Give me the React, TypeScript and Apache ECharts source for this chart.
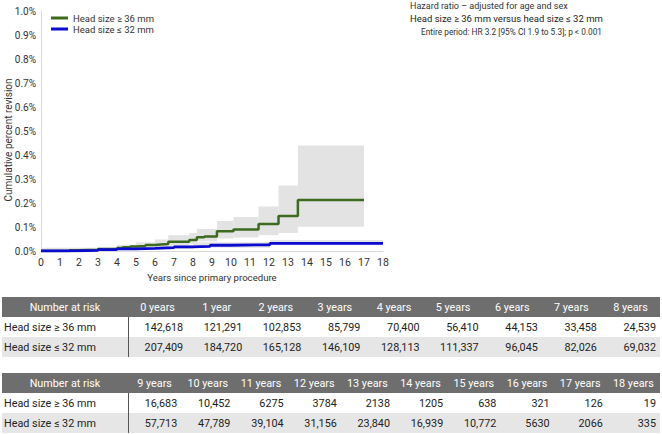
import React, { useEffect, useRef } from "react";
import * as echarts from "echarts";

const FONT = "Roboto";

// Kaplan-Meier style step estimates (percent)
const greenName = "Head size \u2265 36 mm";
const blueName = "Head size \u2264 32 mm";
const greenTimes = [0, 1.5, 2, 3, 4, 4.3, 4.7, 5, 5.5, 6, 6.3, 6.7, 7.8, 8.2, 8.6, 9.26, 10.13, 11.45, 12.5, 13.52, 17];
const greenValues = [0, 0.003, 0.005, 0.008, 0.012, 0.016, 0.019, 0.021, 0.025, 0.027, 0.029, 0.039, 0.046, 0.057, 0.06, 0.082, 0.09, 0.113, 0.146, 0.213, 0.213];
const blueTimes = [0, 1, 2, 3, 4, 5, 6, 6.3, 7, 8, 8.9, 9.96, 12.05, 18];
const blueValues = [0, 0.001, 0.003, 0.006, 0.009, 0.011, 0.012, 0.014, 0.017, 0.019, 0.024, 0.026, 0.032, 0.032];

// confidence bands: [start, end, lower, upper]
const greenBand = [
  [0, 1.5, 0, 0.004],
  [1.5, 3, 0.001, 0.008],
  [3, 4, 0.004, 0.014],
  [4, 5, 0.008, 0.026],
  [5, 6, 0.013, 0.036],
  [6, 6.7, 0.018, 0.048],
  [6.7, 7.8, 0.025, 0.066],
  [7.8, 8.2, 0.03, 0.075],
  [8.2, 9.26, 0.04, 0.092],
  [9.26, 10.13, 0.052, 0.125],
  [10.13, 11.45, 0.056, 0.142],
  [11.45, 12.5, 0.066, 0.186],
  [12.5, 13.52, 0.075, 0.273],
  [13.52, 17.0, 0.101, 0.44],
];
const blueBand = [
  [0, 4, 0, 0.014],
  [4, 8, 0.007, 0.024],
  [8, 12.05, 0.014, 0.036],
  [12.05, 18, 0.024, 0.046],
];

// Number at risk tables
const rowLabels = [greenName, blueName];
const years1 = ["0 years", "1 year", "2 years", "3 years", "4 years", "5 years", "6 years", "7 years", "8 years"];
const large1 = [142618, 121291, 102853, 85799, 70400, 56410, 44153, 33458, 24539];
const small1 = [207409, 184720, 165128, 146109, 128113, 111337, 96045, 82026, 69032];
const years2 = ["9 years", "10 years", "11 years", "12 years", "13 years", "14 years", "15 years", "16 years", "17 years", "18 years"];
const large2 = [16683, 10452, 6275, 3784, 2138, 1205, 638, 321, 126, 19];
const small2 = [57713, 47789, 39104, 31156, 23840, 16939, 10772, 5630, 2066, 335];

const fmt = (n: number) => (n >= 10000 ? n.toLocaleString("en-US") : String(n));
const TFONT = `10.8px "${FONT}"`;

function buildTable(top: number, years: string[], rows: number[][]) {
  const left = 2;
  const right = 660;
  const firstW = 126;
  const rowH = 20;
  const colW = (right - left - firstW) / years.length;
  const els: any[] = [];
  els.push({ type: "rect", shape: { x: left, y: top, width: right - left, height: rowH }, style: { fill: "#6e6e6e" } });
  els.push({ type: "rect", shape: { x: left, y: top + 2 * rowH, width: right - left, height: rowH }, style: { fill: "#e6e6e6" } });
  els.push({ type: "line", shape: { x1: left + firstW + 0.5, y1: top + rowH, x2: left + firstW + 0.5, y2: top + 3 * rowH }, style: { stroke: "#555", lineWidth: 1 } });
  els.push({
    type: "text", x: left + firstW / 2, y: top + rowH / 2,
    style: { text: "Number at risk", fill: "#fff", font: TFONT, align: "center", verticalAlign: "middle" },
  });
  years.forEach((y, i) => {
    els.push({
      type: "text", x: left + firstW + colW * (i + 0.5), y: top + rowH / 2,
      style: { text: y, fill: "#fff", font: TFONT, align: "center", verticalAlign: "middle" },
    });
  });
  rows.forEach((vals, r) => {
    const cy = top + rowH * (r + 1) + rowH / 2;
    els.push({
      type: "text", x: left + 2, y: cy,
      style: { text: rowLabels[r], fill: "#222", font: TFONT, align: "left", verticalAlign: "middle" },
    });
    vals.forEach((v, i) => {
      els.push({
        type: "text", x: left + firstW + colW * (i + 1) - 4, y: cy,
        style: { text: fmt(v), fill: "#222", font: TFONT, align: "right", verticalAlign: "middle" },
      });
    });
  });
  return els;
}

function bandSeries(name: string, data: number[][]) {
  return {
    type: "custom",
    name,
    silent: true,
    encode: { x: [0, 1], y: [2, 3] },
    data,
    z: 1,
    renderItem: (params: any, api: any) => {
      const p0 = api.coord([api.value(0), api.value(3)]);
      const p1 = api.coord([api.value(1), api.value(2)]);
      return {
        type: "rect",
        shape: { x: p0[0], y: p0[1], width: p1[0] - p0[0], height: p1[1] - p0[1] },
        style: { fill: "#e3e3e3" },
      };
    },
  };
}

export default function App() {
  const ref = useRef<HTMLDivElement>(null);
  useEffect(() => {
    if (!ref.current) return;
    const chart = echarts.init(ref.current, undefined, { renderer: "svg" });
    const option: any = {
      animation: false,
      textStyle: { fontFamily: FONT },
      grid: { left: 41, right: 279, top: 11, bottom: 183, containLabel: false, outerBoundsMode: "none" },
      legend: {
        data: [greenName, blueName],
        orient: "vertical",
        left: 46,
        top: 8,
        itemWidth: 17,
        itemHeight: 3,
        itemGap: 1,
        icon: "rect",
        textStyle: { fontSize: 9.5, color: "#333", fontFamily: FONT },
      },
      xAxis: {
        type: "value",
        min: 0,
        max: 18,
        interval: 1,
        name: "Years since primary procedure",
        nameLocation: "middle",
        nameGap: 21,
        nameTextStyle: { fontSize: 9.6, color: "#333" },
        axisLine: { show: true, lineStyle: { color: "#d9d9d9", width: 1 } },
        axisTick: { show: false },
        axisLabel: { fontSize: 10.5, color: "#333", margin: 6 },
        splitLine: { show: false },
      },
      yAxis: {
        type: "value",
        min: 0,
        max: 1,
        interval: 0.1,
        axisLine: { show: true, lineStyle: { color: "#d9d9d9", width: 1 } },
        axisTick: { show: false },
        axisLabel: { fontSize: 10, color: "#333", margin: 5, formatter: (v: number) => v.toFixed(1) + "%" },
        splitLine: { show: false },
      },
      series: [
        bandSeries("greenBand", greenBand),
        bandSeries("blueBand", blueBand),
        {
          type: "line",
          name: greenName,
          step: "end",
          showSymbol: false,
          symbol: "none",
          z: 3,
          color: "#3c6b1f",
          lineStyle: { color: "#3c6b1f", width: 2.5 },
          data: greenTimes.map((t, i) => [t, greenValues[i]]),
        },
        {
          type: "line",
          name: blueName,
          step: "end",
          showSymbol: false,
          symbol: "none",
          z: 4,
          color: "#0b0bd0",
          lineStyle: { color: "#0b0bd0", width: 2.8 },
          data: blueTimes.map((t, i) => [t, blueValues[i]]),
        },
      ],
      graphic: [
        { type: "text", x: 8, y: 140, rotation: Math.PI / 2, style: { text: "Cumulative percent revision", fill: "#333", font: `10px "${FONT}"`, align: "center", verticalAlign: "middle" } },
        { type: "text", x: 410, y: 6, style: { text: "Hazard ratio \u2013 adjusted for age and sex", fill: "#333", font: `9px "${FONT}"`, verticalAlign: "middle" } },
        { type: "text", x: 410, y: 18.5, style: { text: "Head size \u2265 36 mm versus head size \u2264 32 mm", fill: "#222", font: `9.5px "${FONT}"`, verticalAlign: "middle" } },
        { type: "text", x: 421, y: 32, style: { text: "Entire period: HR 3.2 [95% CI 1.9 to 5.3]; p < 0.001", fill: "#333", font: `8.3px "${FONT}"`, verticalAlign: "middle" } },
        ...buildTable(297, years1, [large1, small1]),
        ...buildTable(373, years2, [large2, small2]),
      ],
    };
    chart.setOption(option);
    return () => chart.dispose();
  }, []);
  return <div ref={ref} style={{ position: "fixed", left: 0, top: 0, width: 662, height: 434, background: "#fff" }} />;
}
